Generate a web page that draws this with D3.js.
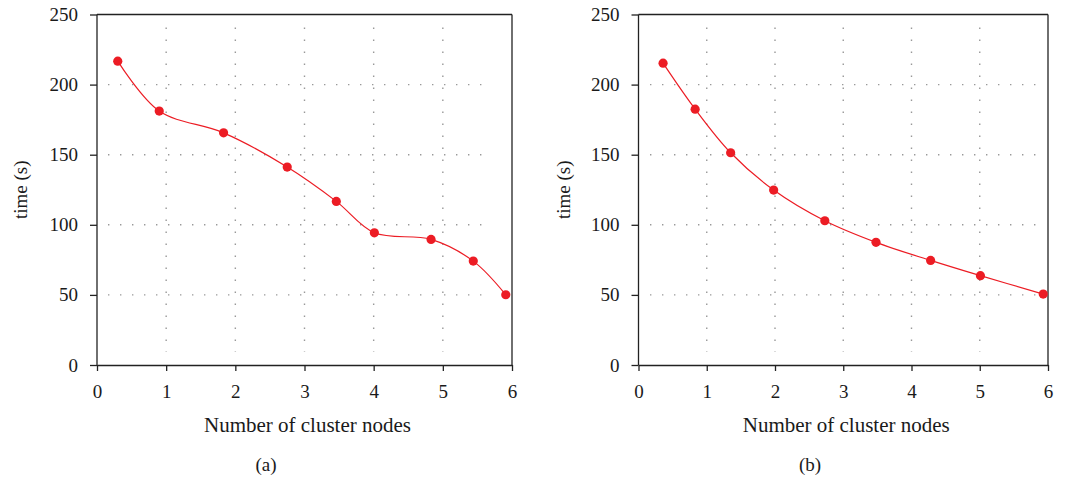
<!DOCTYPE html>
<html>
<head>
<meta charset="utf-8">
<script src="https://cdn.jsdelivr.net/npm/d3@7"></script>
<style>
  body { margin: 0; background: #fff; }
  svg text { font-family: "Liberation Serif", "DejaVu Serif", serif; fill: #1a1a1a; }
</style>
</head>
<body>
<div id="chart"></div>
<script>
// panel (a)
const nodesA = [0.3, 0.9, 1.83, 2.75, 3.46, 4.01, 4.83, 5.44, 5.91];
const timeA = [216.7, 181.1, 165.6, 141.2, 116.7, 94.3, 89.6, 74.1, 50.1];
// panel (b)
const nodesB = [0.36, 0.83, 1.35, 1.98, 2.73, 3.48, 4.28, 5.01, 5.93];
const timeB = [215.3, 182.5, 151.4, 124.8, 102.9, 87.5, 74.6, 63.7, 50.6];

const xTicks = [0, 1, 2, 3, 4, 5, 6];
const yTicks = [0, 50, 100, 150, 200, 250];
const xGrid = [1, 2, 3, 4, 5];
const yGrid = [50, 100, 150, 200];

const W = 1066, H = 479;
const svg = d3.select("#chart").append("svg").attr("width", W).attr("height", H);

function drawPanel(opts) {
  const { left, right, top, bottom, xs, ys, label, labelX, ylabX, gridL, gridR } = opts;
  const x = d3.scaleLinear().domain([0, 6]).range([left, right]);
  const y = d3.scaleLinear().domain([0, 250]).range([bottom, top]);
  const g = svg.append("g");

  // dotted grid
  g.selectAll("whatever").data(yGrid).enter().append("line")
    .attr("x1", gridL).attr("x2", gridR)
    .attr("y1", (d) => y(d)).attr("y2", (d) => y(d))
    .attr("stroke", "#999").attr("stroke-width", 1.4)
    .attr("stroke-dasharray", "1.4,10.6");
  g.selectAll("whatever").data(xGrid).enter().append("line")
    .attr("x1", (d) => x(d)).attr("x2", (d) => x(d))
    .attr("y1", top + 13).attr("y2", bottom - 13)
    .attr("stroke", "#999").attr("stroke-width", 1.4)
    .attr("stroke-dasharray", "1.4,10.6");

  // axes
  const ax = g.append("g")
    .attr("transform", `translate(0,${bottom})`)
    .call(d3.axisBottom(x).tickValues(xTicks).tickFormat(d3.format("d"))
      .tickSize(6).tickPadding(14).tickSizeOuter(0));
  const ay = g.append("g")
    .attr("transform", `translate(${left},0)`)
    .call(d3.axisLeft(y).tickValues(yTicks).tickFormat(d3.format("d"))
      .tickSize(7).tickPadding(12).tickSizeOuter(0));
  [ax, ay].forEach((a) => {
    a.attr("font-size", 19).attr("font-family", null);
    a.select(".domain").attr("stroke", "#222").attr("stroke-width", 1.3);
    a.selectAll(".tick line").attr("stroke", "#222").attr("stroke-width", 1.3);
    a.selectAll(".tick text").attr("fill", "#1a1a1a");
  });
  ay.select(".domain").attr("d", `M0,${bottom}V${top}`);

  // top and right borders
  g.append("line").attr("x1", left).attr("x2", right).attr("y1", top).attr("y2", top)
    .attr("stroke", "#222").attr("stroke-width", 1.3);
  g.append("line").attr("x1", right).attr("x2", right).attr("y1", top).attr("y2", bottom)
    .attr("stroke", "#222").attr("stroke-width", 1.3);

  const data = xs.map((v, i) => [v, ys[i]]);
  g.append("path")
    .datum(data)
    .attr("fill", "none")
    .attr("stroke", "#ec1c24")
    .attr("stroke-width", 1.2)
    .attr("d", d3.line().curve(d3.curveCatmullRom.alpha(0.5)).x((d) => x(d[0])).y((d) => y(d[1])));

  g.selectAll("whatever").data(data).enter().append("circle")
    .attr("cx", (d) => x(d[0])).attr("cy", (d) => y(d[1]))
    .attr("r", 4.6).attr("fill", "#ec1c24");

  g.append("text")
    .attr("text-anchor", "middle")
    .attr("x", (left + right) / 2 + 3)
    .attr("y", 432)
    .attr("font-size", 21)
    .text("Number of cluster nodes");

  g.append("text")
    .attr("text-anchor", "middle")
    .attr("transform", `translate(${ylabX},${(top + bottom) / 2}) rotate(-90)`)
    .attr("font-size", 19)
    .text("time (s)");

  g.append("text")
    .attr("text-anchor", "middle")
    .attr("x", labelX)
    .attr("y", 471)
    .attr("font-size", 19)
    .text(label);
}

drawPanel({ left: 97, right: 512, top: 14.5, bottom: 365, xs: nodesA, ys: timeA,
  label: "(a)", labelX: 266, ylabX: 27, gridL: 108, gridR: 492 });
drawPanel({ left: 638.5, right: 1048, top: 14.5, bottom: 365, xs: nodesB, ys: timeB,
  label: "(b)", labelX: 810, ylabX: 570, gridL: 650, gridR: 1040 });
</script>
</body>
</html>
